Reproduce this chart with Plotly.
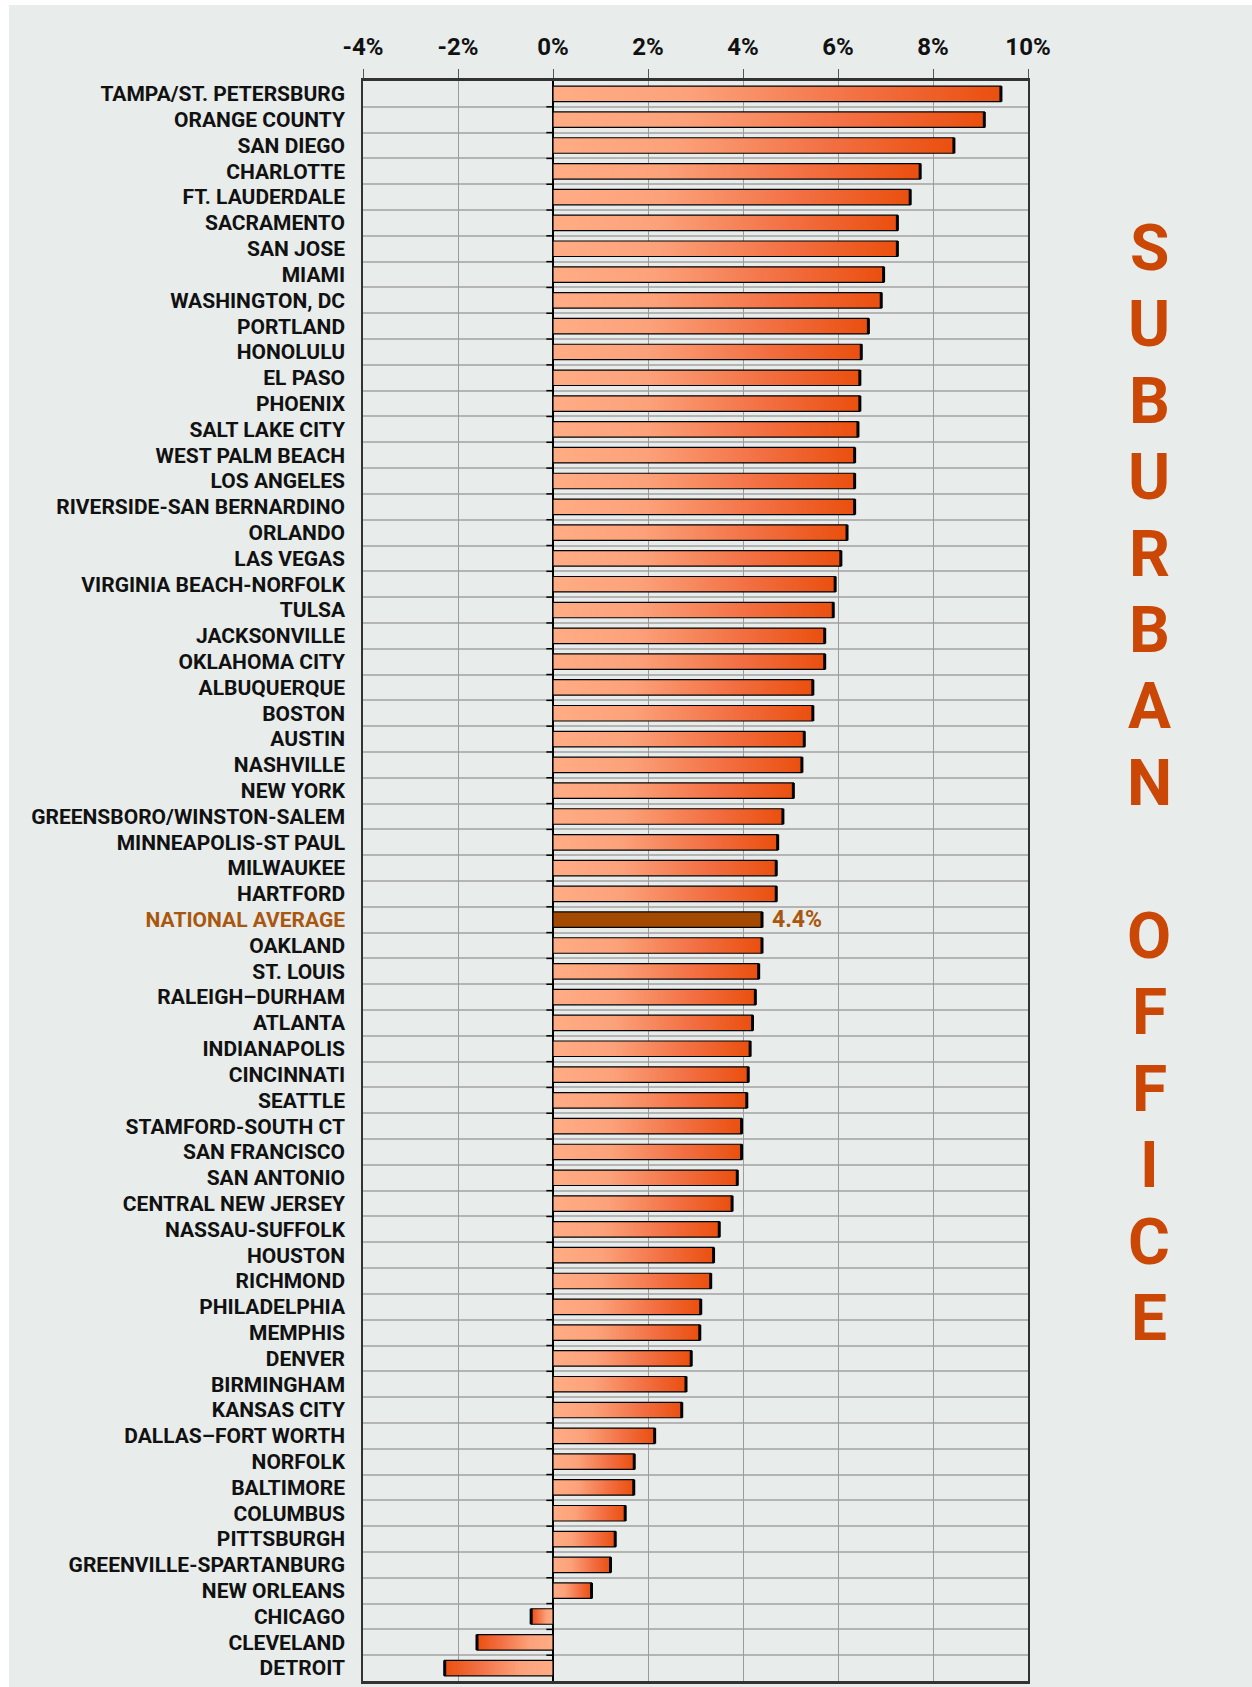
import plotly.graph_objects as go

cities = [
    "TAMPA/ST. PETERSBURG", "ORANGE COUNTY", "SAN DIEGO", "CHARLOTTE", "FT. LAUDERDALE",
    "SACRAMENTO", "SAN JOSE", "MIAMI", "WASHINGTON, DC", "PORTLAND", "HONOLULU",
    "EL PASO", "PHOENIX", "SALT LAKE CITY", "WEST PALM BEACH", "LOS ANGELES",
    "RIVERSIDE-SAN BERNARDINO", "ORLANDO", "LAS VEGAS", "VIRGINIA BEACH-NORFOLK",
    "TULSA", "JACKSONVILLE", "OKLAHOMA CITY", "ALBUQUERQUE", "BOSTON", "AUSTIN",
    "NASHVILLE", "NEW YORK", "GREENSBORO/WINSTON-SALEM", "MINNEAPOLIS-ST PAUL",
    "MILWAUKEE", "HARTFORD", "NATIONAL AVERAGE", "OAKLAND", "ST. LOUIS",
    "RALEIGH–DURHAM", "ATLANTA", "INDIANAPOLIS", "CINCINNATI", "SEATTLE",
    "STAMFORD-SOUTH CT", "SAN FRANCISCO", "SAN ANTONIO", "CENTRAL NEW JERSEY",
    "NASSAU-SUFFOLK", "HOUSTON", "RICHMOND", "PHILADELPHIA", "MEMPHIS", "DENVER",
    "BIRMINGHAM", "KANSAS CITY", "DALLAS–FORT WORTH", "NORFOLK", "BALTIMORE",
    "COLUMBUS", "PITTSBURGH", "GREENVILLE-SPARTANBURG", "NEW ORLEANS", "CHICAGO",
    "CLEVELAND", "DETROIT",
]
growth = [
    9.43, 9.08, 8.44, 7.73, 7.52,
    7.25, 7.25, 6.96, 6.91, 6.64, 6.49,
    6.46, 6.46, 6.42, 6.35, 6.35,
    6.35, 6.19, 6.06, 5.94,
    5.90, 5.72, 5.72, 5.47, 5.47, 5.29,
    5.24, 5.06, 4.84, 4.73,
    4.70, 4.70, 4.40, 4.40, 4.33,
    4.26, 4.20, 4.15, 4.11, 4.08,
    3.97, 3.97, 3.88, 3.77,
    3.50, 3.38, 3.32, 3.11, 3.09, 2.91,
    2.80, 2.71, 2.14, 1.71, 1.70,
    1.52, 1.31, 1.21, 0.81, -0.46,
    -1.60, -2.28,
]
x_ticks = [-4, -2, 0, 2, 4, 6, 8, 10]
x_ticktext = ["-4%", "-2%", "0%", "2%", "4%", "6%", "8%", "10%"]
highlight = "NATIONAL AVERAGE"
side_title = "SUBURBAN OFFICE"

BG = "#E8ECEB"
LIGHT = "#FFAC84"
DARK = "#EA4F0E"
AVG_BAR = "#A34A00"
AVG_TXT = "#A9570F"
TITLE_COL = "#CB4705"
FONT = "Roboto"

# page offset of the figure (body margin) and figure size
OX, OY = 9, 5
W, H = 1252 - OX, 1687 - OY
ML, MT = 363 - OX, 81 - OY
MR = W - (1028 - OX)
MB = 3
HALF = 0.3

fig = go.Figure()

pos_scale = [[0, LIGHT], [0.3, "#FCA27B"], [0.7, "#F26E41"], [1, DARK]]
neg_scale = [[0, DARK], [0.3, "#F26E41"], [0.7, "#FCA27B"], [1, LIGHT]]

for i, (c, v) in enumerate(zip(cities, growth)):
    xs = [0, v, v, 0, 0]
    ys = [i - HALF, i - HALF, i + HALF, i + HALF, i - HALF]
    if c == highlight:
        fig.add_trace(go.Scatter(x=xs, y=ys, mode="lines", fill="toself",
                                 fillcolor=AVG_BAR, line=dict(color="black", width=1.2),
                                 hoverinfo="skip", showlegend=False))
    else:
        fig.add_trace(go.Scatter(
            x=xs, y=ys, mode="lines", fill="toself",
            fillgradient=dict(type="horizontal", colorscale=pos_scale if v >= 0 else neg_scale),
            line=dict(color="black", width=1.2), hoverinfo="skip", showlegend=False))

# thick dark end cap on each bar
ex, ey = [], []
for i, v in enumerate(growth):
    ex += [v, v, None]
    ey += [i - HALF, i + HALF, None]
fig.add_trace(go.Scatter(x=ex, y=ey, mode="lines", line=dict(color="black", width=3),
                         hoverinfo="skip", showlegend=False))

# small ticks on the zero line at row boundaries
tx, ty = [], []
for i in range(len(cities) - 1):
    tx += [-0.14, 0, None]
    ty += [i + 0.5, i + 0.5, None]
fig.add_trace(go.Scatter(x=tx, y=ty, mode="lines", line=dict(color="black", width=1.5),
                         hoverinfo="skip", showlegend=False))

# value label for the national average
avg_i = cities.index(highlight)
fig.add_annotation(x=growth[avg_i], y=avg_i, xref="x", yref="y", text=f"{growth[avg_i]:.1f}%",
                   showarrow=False, xanchor="left", xshift=8,
                   font=dict(family=FONT, size=23, color=AVG_TXT, weight="bold"))

ticktext = [f"<span style='color:{AVG_TXT}'>{c}</span>" if c == highlight else c for c in cities]

fig.update_xaxes(range=[-4, 10], side="top", tickvals=x_ticks, ticktext=x_ticktext,
                 showgrid=True, gridcolor="#9c9c9c", gridwidth=1,
                 ticks="outside", ticklen=9, tickcolor="#555", tickwidth=1,
                 showline=True, linecolor="#333", linewidth=2.5, mirror=True,
                 zeroline=True, zerolinecolor="black", zerolinewidth=1.5,
                 tickfont=dict(family=FONT, size=24, color="#111", weight="bold"),
                 ticklabelstandoff=5, fixedrange=True)
fig.update_yaxes(range=[len(cities) - 0.5, -0.5], tickvals=list(range(len(cities))),
                 ticktext=ticktext, showgrid=False, ticks="", zeroline=False,
                 showline=True, linecolor="#333", linewidth=1.5, mirror=True,
                 minor=dict(tickvals=[i + 0.5 for i in range(len(cities) - 1)],
                            showgrid=True, gridcolor="#b4b4b4", gridwidth=1.8, ticks=""),
                 tickfont=dict(family=FONT, size=21, color="#111", weight="bold"),
                 ticklabelstandoff=12, fixedrange=True)

# vertical side title, one letter per line (page pixel positions -> paper coords)
pw = W - ML - MR
ph = H - MT - MB
top_px, step_px, cx = 248.5, 76.6, 1149
k = 0
for ch in side_title:
    if ch != " ":
        ypx = top_px + k * step_px - OY
        fig.add_annotation(x=(cx - OX - ML) / pw, y=(H - MB - ypx) / ph, xref="paper", yref="paper",
                           text=ch, showarrow=False, xanchor="center", yanchor="middle",
                           font=dict(family=FONT, size=64, color=TITLE_COL, weight="bold"))
    k += 1

fig.update_layout(width=W, height=H, margin=dict(l=ML, r=MR, t=MT, b=MB),
                  paper_bgcolor=BG, plot_bgcolor=BG, showlegend=False)

fig.write_html("out.html", post_script=f"document.body.style.margin='{OY}px 0 0 {OX}px';")
